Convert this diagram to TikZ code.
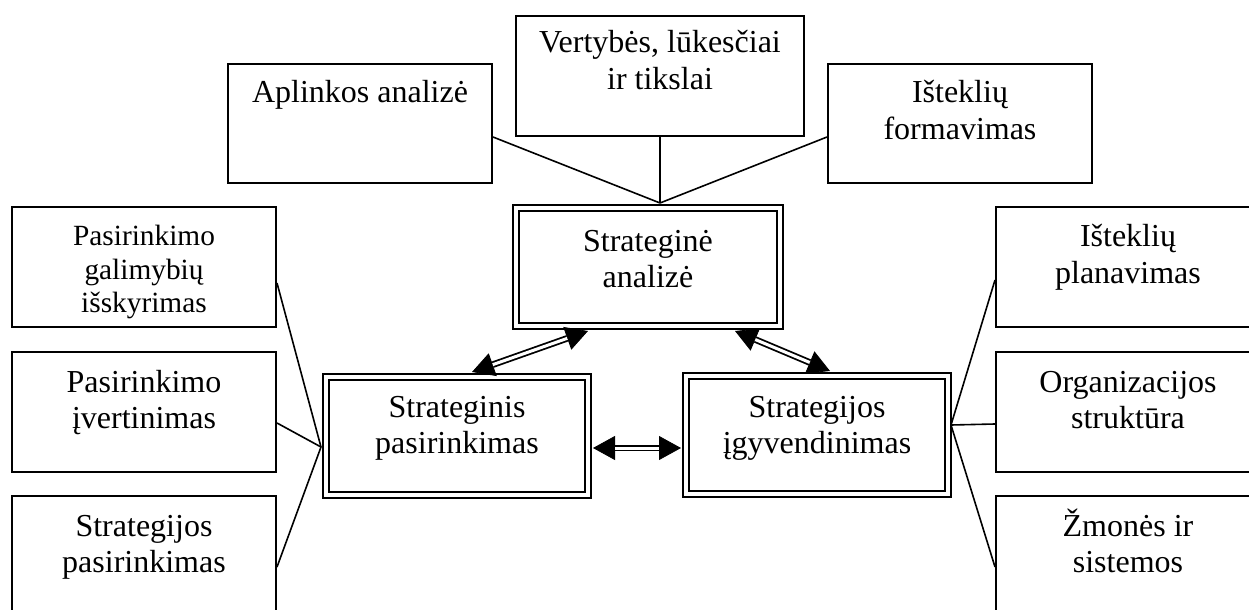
\documentclass[tikz,border=0pt]{standalone}
\usepackage{fontspec}
\setmainfont{Liberation Serif}
\usetikzlibrary{arrows.meta}
\begin{document}
\begin{tikzpicture}[x=0.5pt,y=-0.5pt,
  box/.style={draw, line width=1pt, inner sep=0pt, minimum width=132pt, minimum height=60pt},
  dbox/.style={draw, double, line width=1pt, double distance=2pt, inner sep=0pt,
    minimum width=131pt, minimum height=59pt},
  % label nodes are placed by the baseline of their last line
  lbl/.style={anchor=base, align=center, inner sep=0pt, font=\fontsize{16pt}{18.2pt}\selectfont},
  lblsmall/.style={lbl, font=\fontsize{14.67pt}{17pt}\selectfont},
  link/.style={line width=0.8pt},
  tips/.style={line width=0.4pt, {Triangle[length=11pt,width=12pt]}-{Triangle[length=11pt,width=12pt]}},
  shaft/.style={double, line width=0.9pt, double distance=1.5pt, shorten <=11pt, shorten >=11pt}]
\useasboundingbox (0,0) rectangle (1249,610);
\clip (0,0) rectangle (1249,610);

% top row
\node[box, minimum height=59.5pt] (aplinkos) at (360,123.5) {};
\node[box, minimum width=144pt] (vertybes) at (660,76) {};
\node[box, minimum height=59.5pt] (formavimas) at (960,123.5) {};

% central double-framed blocks
\node[dbox, minimum width=132pt] (analize) at (648,267) {};
\node[dbox] (pasirinkimas) at (457,436) {};
\node[dbox] (igyvendinimas) at (817,435) {};

% left column
\node[box] (L1) at (144,267) {};
\node[box] (L2) at (144,412) {};
\node[box] (L3) at (144,556) {};

% right column
\node[box] (R1) at (1128,267) {};
\node[box] (R2) at (1128,411.5) {};
\node[box] (R3) at (1128,556) {};

% labels
\node[lbl] (taplinkos) at (360,103) {Aplinkos analizė};
\node[lbl] (tvertybes) at (660,89.4) {Vertybės, lūkesčiai\\ir tikslai};
\node[lbl] (tformavimas) at (960,139.4) {Išteklių\\formavimas};
\node[lbl] (tanalize) at (648,287.4) {Strateginė\\analizė};
\node[lbl] (tpasirinkimas) at (457,453.4) {Strateginis\\pasirinkimas};
\node[lbl] (tigyvendinimas) at (817,453.4) {Strategijos\\įgyvendinimas};
\node[lblsmall] (tL1) at (144,313) {Pasirinkimo\\galimybių\\išskyrimas};
\node[lbl] (tL2) at (144,428.4) {Pasirinkimo\\įvertinimas};
\node[lbl] (tL3) at (144,572.4) {Strategijos\\pasirinkimas};
\node[lbl] (tR1) at (1128,283.4) {Išteklių\\planavimas};
\node[lbl] (tR2) at (1128,428.4) {Organizacijos\\struktūra};
\node[lbl] (tR3) at (1128,572.4) {Žmonės ir\\sistemos};

% attachment points
\path (vertybes.south |- analize.north) ++(0,-4) coordinate (hubT);
\path (aplinkos.south east) ++(0,-47) coordinate (a1);
\path (formavimas.south west) ++(0,-47) coordinate (f1);
\path (pasirinkimas.west) ++(-4,11) coordinate (hubL);
\path (L1.east) ++(0,16) coordinate (l1);
\path (L2.east) ++(0,11) coordinate (l2);
\path (L3.east) ++(0,11) coordinate (l3);
\path (igyvendinimas.east) ++(2,-10) coordinate (hubR);
\path (R1.west) ++(0,13) coordinate (r1);
\path (R2.west) ++(0,12.5) coordinate (r2);
\path (R3.west) ++(0,11) coordinate (r3);

% plain connectors
\draw[link] (a1) -- (hubT);
\draw[link] (vertybes.south) -- (hubT);
\draw[link] (f1) -- (hubT);
\draw[link] (l1) -- (hubL);
\draw[link] (l2) -- (hubL);
\draw[link] (l3) -- (hubL);
\draw[link] (hubR) -- (r1);
\draw[link] (hubR) -- (r2);
\draw[link] (hubR) -- (r3);

% double-lined two-way arrows
\path (pasirinkimas.north) ++(15,-4) coordinate (la);
\path (analize.south) ++(-60,4) coordinate (lb);
\path (analize.south) ++(87,4) coordinate (ra);
\path (igyvendinimas.north) ++(13,-4) coordinate (rb);
\path (pasirinkimas.east) ++(4,12) coordinate (ha);
\path (igyvendinimas.west) ++(-4,13) coordinate (hb);

\draw[tips] (la) -- (lb);
\draw[shaft] (la) -- (lb);
\draw[tips] (ra) -- (rb);
\draw[shaft] (ra) -- (rb);
\draw[tips] (ha) -- (hb);
\draw[shaft] (ha) -- (hb);
\end{tikzpicture}
\end{document}
